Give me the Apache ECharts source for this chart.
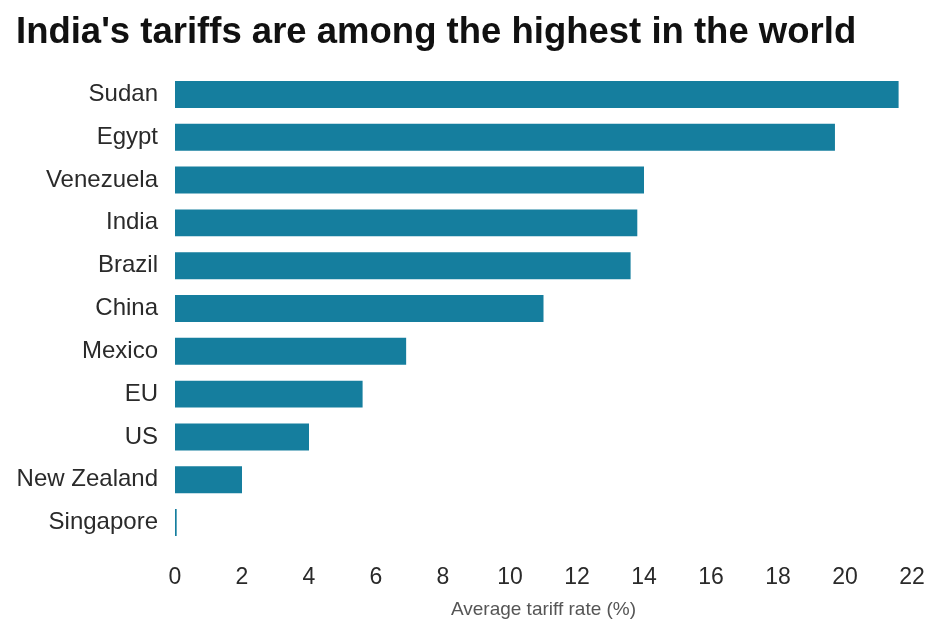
<!DOCTYPE html>
<html>
<head>
<meta charset="utf-8">
<style>
  html, body { margin: 0; padding: 0; background: #ffffff; }
  #chart { width: 932px; height: 626px; }
</style>
<script src="https://cdn.jsdelivr.net/npm/echarts@6/dist/echarts.min.js"></script>
</head>
<body>
<div id="chart"></div>
<script>
// Average tariff rates by economy (%)
const countries = ['Sudan', 'Egypt', 'Venezuela', 'India', 'Brazil', 'China', 'Mexico', 'EU', 'US', 'New Zealand', 'Singapore'];
const tariffRates = [21.6, 19.7, 14.0, 13.8, 13.6, 11.0, 6.9, 5.6, 4.0, 2.0, 0.05];
const xTicks = [0, 2, 4, 6, 8, 10, 12, 14, 16, 18, 20, 22];

const FONT = 'Liberation Sans, Arial, Helvetica, sans-serif';

const chart = echarts.init(document.getElementById('chart'));

chart.setOption({
  backgroundColor: '#ffffff',
  animation: false,
  title: {
    text: "India's tariffs are among the highest in the world",
    left: 11,
    top: 9,
    textStyle: {
      fontFamily: FONT,
      fontWeight: 'bold',
      fontSize: 36.5,
      color: '#111111'
    }
  },
  grid: {
    left: 175,
    right: 20,
    top: 73,
    bottom: 82
  },
  xAxis: {
    type: 'value',
    min: xTicks[0],
    max: xTicks[xTicks.length - 1],
    interval: 2,
    name: 'Average tariff rate (%)',
    nameLocation: 'middle',
    nameGap: 56,
    nameTextStyle: {
      fontFamily: FONT,
      fontSize: 19,
      color: '#555555'
    },
    axisLine: { show: false },
    axisTick: { show: false },
    splitLine: { show: false },
    axisLabel: {
      margin: 22,
      fontFamily: FONT,
      fontSize: 23,
      color: '#2a2a2a'
    }
  },
  yAxis: {
    type: 'category',
    data: countries,
    inverse: true,
    axisLine: { show: false },
    axisTick: { show: false },
    axisLabel: {
      margin: 17,
      fontFamily: FONT,
      fontSize: 24,
      color: '#2a2a2a'
    }
  },
  series: [{
    type: 'bar',
    data: tariffRates,
    barCategoryGap: '37%',
    itemStyle: { color: '#157e9e' }
  }]
});
</script>
</body>
</html>
